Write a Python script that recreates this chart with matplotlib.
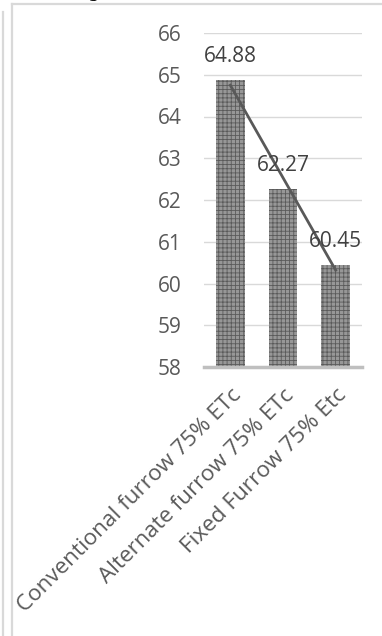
import numpy as np
import matplotlib
matplotlib.use("Agg")
import matplotlib.pyplot as plt
from matplotlib.lines import Line2D
from matplotlib.patches import Rectangle

# --- data ---------------------------------------------------------------
categories = ["Conventional furrow 75% ETc",
              "Alternate furrow 75% ETc",
              "Fixed Furrow 75% Etc"]
values = [64.88, 62.27, 60.45]
y_ticks = [58, 59, 60, 61, 62, 63, 64, 65, 66]

TXT = "#595959"
plt.rcParams["font.family"] = ["Open Sans", "DejaVu Sans"]
plt.rcParams["hatch.linewidth"] = 0.6

W, H = 382, 636
fig = plt.figure(figsize=(W / 100, H / 100), dpi=100)
ax = fig.add_axes([204 / W, 1 - 367 / H, 158 / W, (367 - 33) / H])

x = np.arange(len(categories))
ax.bar(x, values, width=0.55, bottom=0, color="#979797",
       edgecolor="#5a5a5a", hatch="++++", linewidth=0, zorder=2)

# linear trendline (Excel style)
slope, icpt = np.polyfit(x, values, 1)
ax.plot([x[0], x[-1]], [icpt + slope * x[0], icpt + slope * x[-1]],
        color="#595959", linewidth=2, zorder=3)

for xi, v in zip(x, values):
    ax.annotate(f"{v:.2f}", xy=(xi, v), xytext=(0, 17), textcoords="offset points",
                ha="center", va="center", fontsize=15, color="#404040", zorder=4)

ax.set_xlim(-0.5, 2.5)
ax.set_ylim(58, 66)
ax.set_yticks(y_ticks)
ax.set_yticklabels([str(t) for t in y_ticks], fontsize=15, color=TXT)
ax.set_xticks(x)
ax.set_xticklabels(categories, rotation=45, ha="right", va="top",
                   rotation_mode="anchor", fontsize=16.2, color=TXT)
ax.tick_params(axis="both", length=0)
ax.tick_params(axis="y", pad=16)
ax.tick_params(axis="x", pad=13)
ax.grid(True, axis="y", color="#d9d9d9", linewidth=1, zorder=0)
ax.set_axisbelow(True)
for s in ["top", "right", "left"]:
    ax.spines[s].set_visible(False)
ax.spines["bottom"].set_color("#bfbfbf")
ax.spines["bottom"].set_linewidth(2.5)
ax.spines["bottom"].set_zorder(5)

# page frame around the chart
fig.patches.append(Rectangle((0, 0), 12 / W, 1, transform=fig.transFigure,
                             facecolor="white", edgecolor="none", zorder=10))
frame = dict(color="#d9d9d9", linewidth=1.6, transform=fig.transFigure, zorder=11)
fig.lines.append(Line2D([12 / W, 12 / W], [0, 1 - 4 / H], **frame))
fig.lines.append(Line2D([12 / W, 1], [1 - 4 / H, 1 - 4 / H], **frame))
fig.lines.append(Line2D([3.5 / W, 3.5 / W], [0, 1 - 12 / H], **frame))
fig.text(88 / W, 1 + 8 / H, "g", fontsize=14, family="DejaVu Serif",
         color="black", ha="left", va="center")

fig.savefig("out.png", dpi=100)
